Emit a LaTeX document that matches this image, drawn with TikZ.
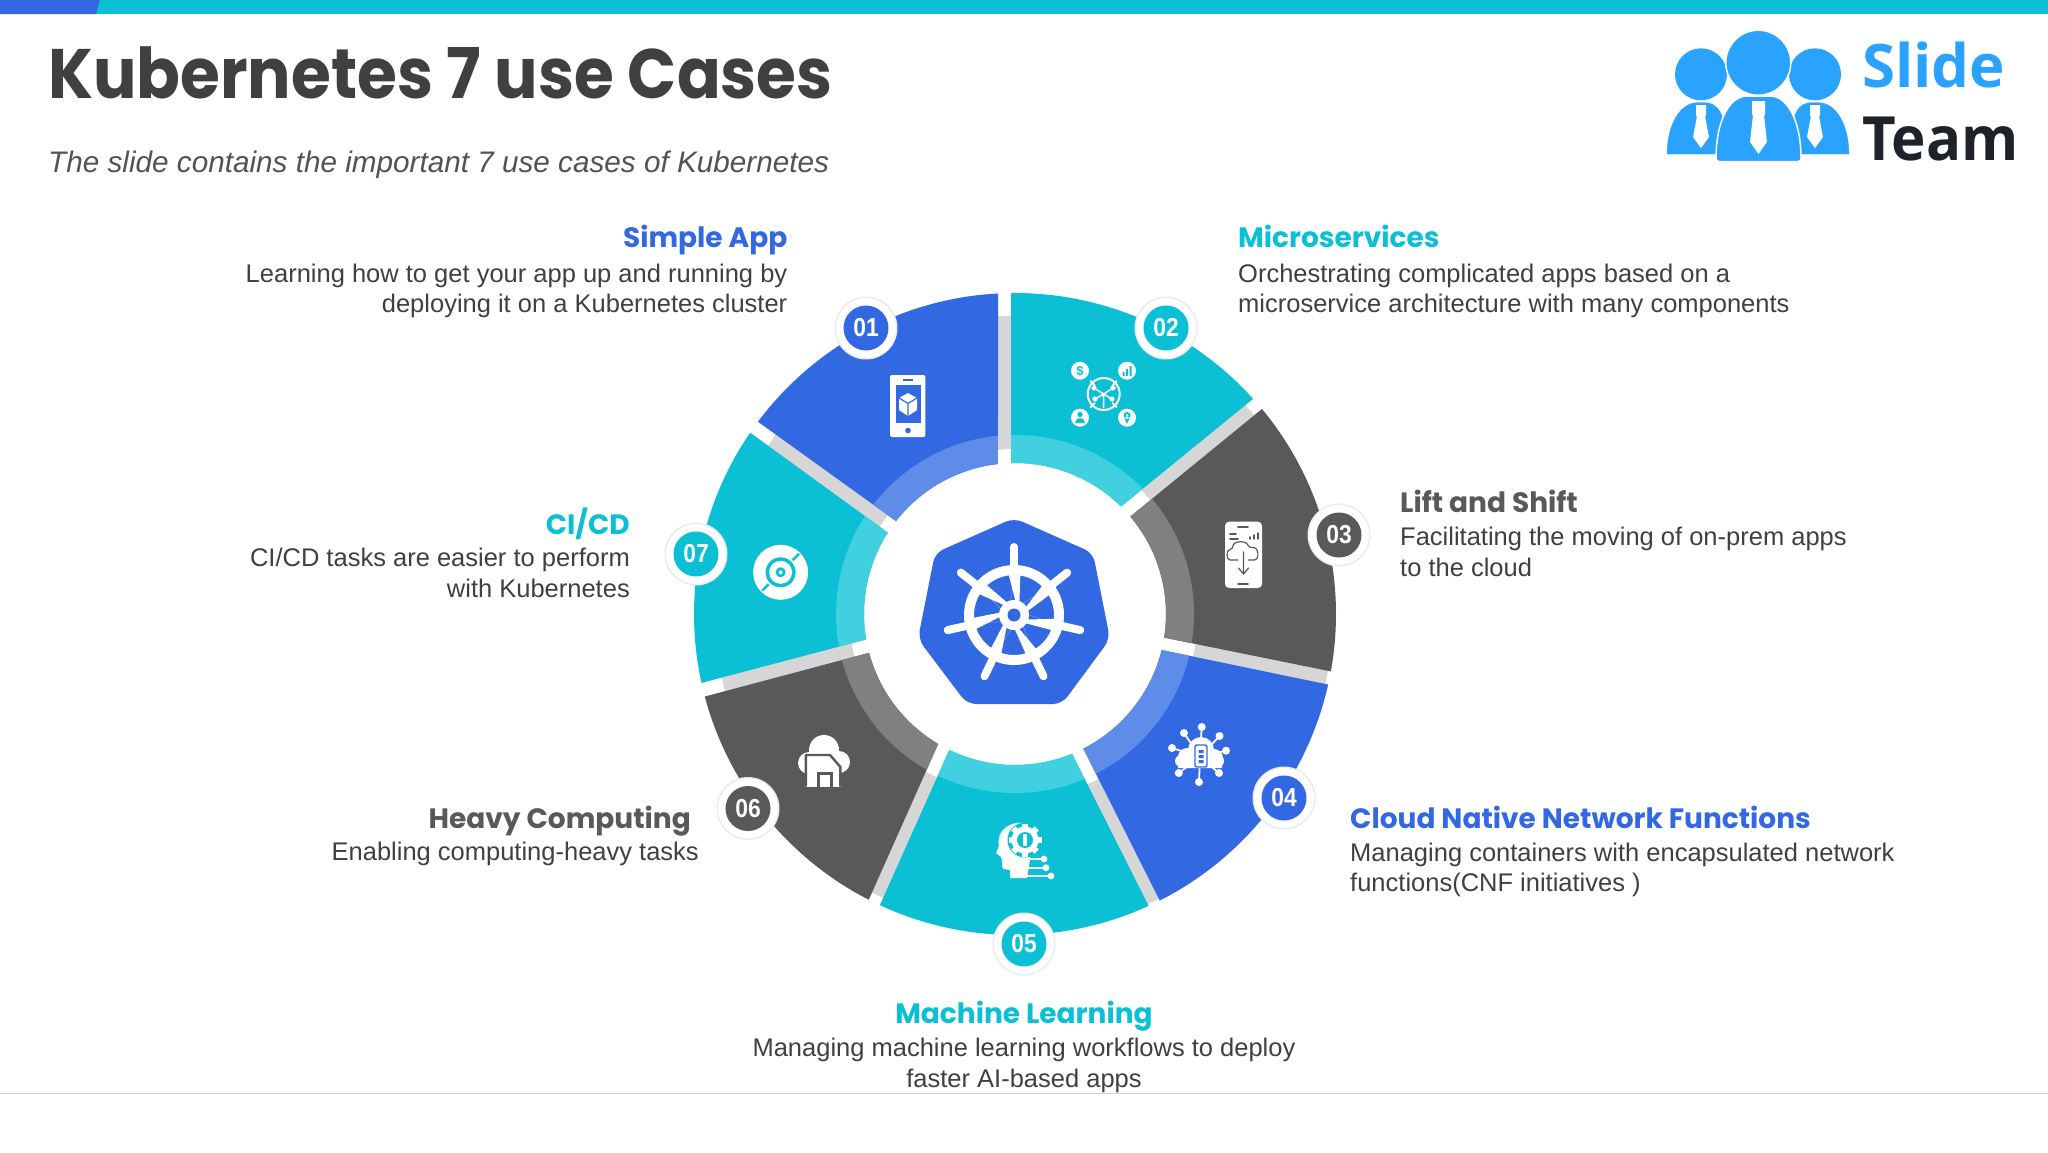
\documentclass[tikz,border=0pt]{standalone}
\usepackage{fontspec}
\setmainfont{Liberation Sans}
\newfontfamily\popfont{Poppins}
\newfontfamily\logofont{Open Sans}
\usetikzlibrary{calc}
\definecolor{kblue}{HTML}{3269E3}
\definecolor{kteal}{HTML}{0BC0D4}
\definecolor{kdark}{HTML}{59585A}
\definecolor{lblue}{HTML}{5F8CE8}
\definecolor{lteal}{HTML}{40D0DF}
\definecolor{ldark}{HTML}{807F81}
\definecolor{gapgrey}{HTML}{D6D6D6}
\definecolor{bodytxt}{HTML}{404040}
\definecolor{logoblue}{HTML}{29A3FF}
\definecolor{logoblack}{HTML}{1E2329}
\newcommand\fsz[1]{\fontsize{#1}{#1}\selectfont}
\newcommand\gapseg[4]{%
  \fill[gapgrey] (#1:#3pt) arc[start angle=#1,end angle=#2,radius=#3pt] -- (#2:#4pt) arc[start angle=#2,end angle=#1,radius=#4pt] -- cycle;}
\newcommand\sector[6]{%
  \fill[#1] (#3:321pt) arc[start angle=#3,end angle=#4,radius=321pt] -- (#5:151pt) arc[start angle=#5,end angle=#6,radius=151pt] -- cycle;
  \begin{scope}
    \clip (#3:321pt) arc[start angle=#3,end angle=#4,radius=321pt] -- (#5:151pt) arc[start angle=#5,end angle=#6,radius=151pt] -- cycle;
    \fill[#2,even odd rule] (0,0) circle[radius=179pt] (0,0) circle[radius=140pt];
  \end{scope}}
\newcommand\badge[4]{% name, colour, position, text
  \fill[black!8] (#3) circle[radius=31.5pt];
  \fill[white] (#3) circle[radius=30pt];
  \node[badgedisc,fill=#2] (#1) at (#3) {\scalebox{.88}[1]{#4}};}
\tikzset{
  x=1pt,y=1pt,
  badgedisc/.style={circle,minimum size=45pt,inner sep=0pt,text=white,font=\bfseries\fsz{26}},
  head/.style={inner sep=0pt,font=\popfont\bfseries\fsz{28}},
  desc/.style={inner sep=0pt,text=bodytxt,font=\fsz{25.5}},
  wl/.style={white,line width=2pt,line cap=round},
  dl/.style={kdark,line width=1.6pt,line cap=round},
  tie/.style={fill=white}
}
\begin{document}
\begin{tikzpicture}
\useasboundingbox (0,0) rectangle (2048,-1152);
\fill[white] (0,0) rectangle (2048,-1152);
% top bar
\fill[kteal] (0,0) rectangle (2048,-14);
\fill[kblue] (0,0) -- (100,0) -- (96,-14) -- (0,-14) -- cycle;
% bottom rule
\draw[black!18,line width=1.2pt] (0,-1093.5) -- (2048,-1093.5);
% title
\node[anchor=base west,inner sep=0pt,text=bodytxt,xscale=.922,font=\popfont\bfseries\fsz{70}] (title) at (48,-98) {Kubernetes 7 use Cases};
\node[anchor=base west,inner sep=0pt,text=bodytxt!90,font=\itshape\fsz{29.7}] (subtitle) at (48,-172) {The slide contains the important 7 use cases of Kubernetes};
% logo
\fill[logoblue] (1701,-74.3) circle[radius=26pt] (1815,-74.3) circle[radius=26pt];
\draw[logoblue,fill=logoblue,line width=0.1pt] (1667,-154) .. controls (1667,-125) and (1680,-102.7) .. (1697,-102.7) -- (1705,-102.7) .. controls (1716,-102.7) and (1727,-110) .. (1727,-154) -- cycle;
\draw[logoblue,fill=logoblue,line width=0.1pt] (1849,-154) .. controls (1849,-125) and (1836,-102.7) .. (1819,-102.7) -- (1811,-102.7) .. controls (1800,-102.7) and (1790,-110) .. (1790,-154) -- cycle;
\draw[white,fill=logoblue,line width=1.5pt] (1758.3,-62.7) circle[radius=32.5pt];
\draw[white,fill=logoblue,line width=1.5pt,rounded corners=3pt] (1716,-161.5) .. controls (1716,-120) and (1730,-96) .. (1750,-96) -- (1767,-96) .. controls (1787,-96) and (1801,-120) .. (1801,-161.5) -- cycle;
\fill[tie] (1752,-101) rectangle (1765,-115) (1753,-115) -- (1764,-115) -- (1767,-142) -- (1758.5,-154) -- (1750,-142) -- cycle;
\fill[tie] (1696,-105) rectangle (1706,-116) (1697,-116) -- (1705,-116) -- (1709,-137) -- (1701,-148) -- (1693,-137) -- cycle;
\fill[tie] (1810,-105) rectangle (1820,-116) (1811,-116) -- (1819,-116) -- (1823,-137) -- (1815,-148) -- (1807,-137) -- cycle;
\node[anchor=base west,inner sep=0pt,text=logoblue,font=\logofont\bfseries\fsz{60}] (logoslide) at (1862,-87.5) {Slide};
\node[anchor=base west,inner sep=0pt,text=logoblack,xscale=.955,font=\logofont\bfseries\fsz{61}] (logoteam) at (1862,-160.7) {Team};
% ring
\begin{scope}[shift={(1015,-614)}]
  \gapseg{88}{99}{165}{298}
  \gapseg{38}{48}{177}{311}
  \gapseg{-16}{-6}{183}{318}
  \gapseg{-70}{-60}{185}{319}
  \gapseg{236}{248}{181}{313}
  \gapseg{188}{198}{166}{300}
  \gapseg{140}{150}{161}{299}
  \sector{kblue}{lblue}{93}{143.2}{142}{96.5}
  \sector{kteal}{lteal}{42.1}{90.7}{91.5}{45.4}
  \sector{kdark}{ldark}{-10.3}{39.7}{40.2}{-9}
  \sector{kblue}{lblue}{-63.2}{-12.7}{-13.8}{-63.1}
  \sector{kteal}{lteal}{-114.9}{-65.4}{-67.8}{-115.8}
  \sector{kdark}{ldark}{194.9}{242.9}{239.4}{194.9}
  \sector{kteal}{lteal}{145.6}{192.4}{189.7}{147.4}
\end{scope}
% centre emblem
\fill[kblue,rounded corners=9pt] (1014,-518) -- (1093,-553) -- (1110,-639) -- (1062,-704) -- (967,-704) -- (918,-639) -- (935,-553) -- cycle;
\begin{scope}[shift={(1014,-615)}]
  \fill[white,even odd rule] (0,0) circle[radius=50pt] (0,0) circle[radius=40pt];
  \foreach \a in {90,141.43,192.86,244.29,295.71,347.14,38.57}{
    \fill[white] (\a+90:5pt) -- (\a:45pt) ++(\a+90:6.5pt) -- ++(\a-90:13pt) -- (\a-90:5pt) -- cycle;
    \draw[white,line width=8pt,line cap=round] (\a:45pt) -- (\a:68pt);
  }
  \fill[white] (0,0) circle[radius=15pt];
  \fill[kblue] (0,0) circle[radius=6.5pt];
\end{scope}
% icon 01 phone
\fill[white,rounded corners=2pt] (890,-375) rectangle (925.4,-437);
\fill[kblue] (895.5,-385) rectangle (921,-423);
\fill[kblue] (908,-430.5) circle[radius=2.8pt];
\draw[kblue,line width=1.4pt] (903,-380) -- (913,-380);
\fill[white] (908,-393) -- (917,-398) -- (917,-410) -- (908,-416) -- (899,-410) -- (899,-398) -- cycle;
\draw[kblue,line width=1.2pt] (899,-398) -- (908,-403.5) -- (917,-398) (908,-403.5) -- (908,-416);
% icon 02 network
\draw[white,line width=2pt] (1103.7,-394) circle[radius=16pt];
\foreach \p/\q in {1080/370.7,1127/370.7,1080/417.7,1127/417.7}{
  \fill[white] (\p,-\q) circle[radius=9pt];
  \draw[wl] ($(\p,-\q)!.45!(1103.7,-394)$) -- ($(\p,-\q)!.62!(1103.7,-394)$);
}
\draw[white,line width=1.5pt] (1103.7,-394) -- (1103.7,-408) (1103.7,-394) -- (1094,-388) (1103.7,-394) -- (1113,-388) (1103.7,-394) -- (1095,-399) (1103.7,-394) -- (1112,-399);
\fill[white] (1094,-388) circle[radius=2.6pt] (1113,-388) circle[radius=2.6pt] (1095,-399) circle[radius=2.6pt] (1112,-399) circle[radius=2.6pt];
\node[inner sep=0pt,text=kteal,font=\bfseries\fsz{13}] (dollar) at (1080,-370.7) {\$};
\fill[kteal] (1122.5,-376) rectangle (1124.5,-372) (1126,-376) rectangle (1128,-369) (1129.5,-376) rectangle (1131.5,-366);
\fill[kteal] (1080,-414.5) circle[radius=2.6pt] (1075,-423) arc[start angle=180,end angle=0,radius=5pt] -- cycle;
\fill[kteal] (1127,-415.5) circle[radius=3.5pt] (1124,-417) -- (1130,-417) -- (1127,-424) -- cycle;
\fill[white] (1127,-415.5) circle[radius=1.4pt];
% icon 03 phone with cloud
\fill[white,rounded corners=4pt] (1225,-521.7) rectangle (1262,-588);
\begin{scope}[dl]
  \draw (1238,-527) -- (1248,-527) (1230,-534) -- (1236,-534) (1230,-539) -- (1238,-539) (1250,-537) -- (1250,-539) (1254,-535) -- (1254,-539) (1258,-533) -- (1258,-539) (1238,-584) -- (1248,-584);
  \draw[line width=1.2pt,rounded corners=3pt] (1238,-560) -- (1233,-560) .. controls (1226,-560) and (1226,-550) .. (1233,-549) .. controls (1233,-541) and (1246,-540) .. (1249,-548) .. controls (1259,-546) and (1260,-560) .. (1251,-560) -- (1249,-560);
  \draw[line width=1.2pt] (1243.5,-552) -- (1243.5,-574) (1238.5,-568) -- (1243.5,-574) -- (1248.5,-568);
\end{scope}
% icon 04 cloud and nodes
\foreach \p/\q in {1201.7/727,1184/733,1219.5/736,1172/748,1226/750.7,1178.8/773,1219/773,1199/782}{
  \fill[white] (\p,-\q) circle[radius=4pt];
  \draw[white,line width=1.8pt] (\p,-\q) -- ($(\p,-\q)!.55!(1200,-757)$);
}
\fill[white] (1187,-757) circle[radius=9pt] (1201,-750) circle[radius=13pt] (1214,-758) circle[radius=9pt] (1178,-761) rectangle (1222,-768);
\fill[white] (1181,-761) circle[radius=6pt] (1218,-761) circle[radius=6pt];
\draw[kblue,fill=white,line width=1.4pt,rounded corners=2pt] (1195,-745) rectangle (1207,-767);
\fill[kblue] (1198.5,-750) rectangle (1203.5,-753) (1198.5,-755) rectangle (1203.5,-758) (1198.5,-760) rectangle (1203.5,-763);
% icon 05 head, gear, circuits
\fill[white] (1010,-878) -- (1010,-870) -- (1003,-869) .. controls (1001,-866) and (1003,-860) .. (1001,-857) -- (996,-853) -- (999,-846) .. controls (996,-830) and (1010,-822.7) .. (1020,-822.7) -- (1032,-824) -- (1030,-860) -- (1027,-878) -- cycle;
\fill[kteal] (1032,-818) rectangle (1050,-856);
\begin{scope}[shift={(1025,-840)}]
  \fill[kteal] (0,0) circle[radius=17.5pt];
  \foreach \a in {0,45,...,315}{\fill[white,rotate=\a] (-3pt,10pt) rectangle (3pt,16.5pt);}
  \fill[white] (0,0) circle[radius=13.5pt];
  \fill[kteal] (0,0) circle[radius=8pt];
  \fill[white] (-1.8pt,-6pt) rectangle (1.8pt,6pt);
\end{scope}
\draw[white,line width=2pt] (1025,-859) -- (1044,-859) (1025,-867.7) -- (1046,-867.7) (1025,-876) -- (1051,-876);
\fill[white] (1044,-859) circle[radius=3.4pt] (1046,-867.7) circle[radius=3.4pt] (1051,-876) circle[radius=3.4pt];
% icon 06 cloud and building
\fill[white] (824,-750) circle[radius=15pt] (809,-763) circle[radius=11pt] (839,-762) circle[radius=11pt];
\fill[white] (805,-786.7) rectangle (841,-760);
\draw[kdark,line width=2.4pt,line join=round] (805.8,-786.7) -- (805.8,-755) -- (830,-755) -- (840.4,-767) -- (840.4,-786.7);
\fill[kdark] (817,-771.7) rectangle (832.6,-786.7);
\fill[white] (819.6,-775) rectangle (830,-786.7);
% icon 07 disc
\begin{scope}[shift={(780.6,-572.3)}]
  \fill[white] (0,0) circle[radius=27.5pt];
  \fill[kteal] (0,0) circle[radius=15pt];
  \fill[white] (0,0) circle[radius=11.5pt];
  \fill[kteal] (0,0) circle[radius=5pt];
  \fill[white] (0,0) circle[radius=2pt];
  \draw[kteal,line width=2.4pt] (45:17pt) -- (45:26pt) (225:17pt) -- (225:26pt);
\end{scope}
% badges
\badge{b1}{kblue}{866,-328}{01}
\badge{b2}{kteal}{1166,-328}{02}
\badge{b3}{kdark}{1339,-535}{03}
\badge{b4}{kblue}{1284,-798}{04}
\badge{b5}{kteal}{1024,-944}{05}
\badge{b6}{kdark}{748,-808.5}{06}
\badge{b7}{kteal}{696,-554}{07}
% texts
\node[head,anchor=base east,text=kblue] (h1) at (787.5,-247) {Simple App};
\node[desc,anchor=base east] (d1a) at (787.5,-282) {Learning how to get your app up and running by};
\node[desc,anchor=base east] (d1b) at (787.5,-312) {deploying it on a Kubernetes cluster};
\node[head,anchor=base west,text=kteal] (h2) at (1238,-247) {Microservices};
\node[desc,anchor=base west] (d2a) at (1238,-282) {Orchestrating complicated apps based on a};
\node[desc,anchor=base west] (d2b) at (1238,-312) {microservice architecture with many components};
\node[head,anchor=base west,text=kdark] (h3) at (1400,-512) {Lift and Shift};
\node[desc,anchor=base west] (d3a) at (1400,-545) {Facilitating the moving of on-prem apps};
\node[desc,anchor=base west] (d3b) at (1400,-576) {to the cloud};
\node[head,anchor=base west,text=kblue] (h4) at (1350,-828) {Cloud Native Network Functions};
\node[desc,anchor=base west] (d4a) at (1350,-861) {Managing containers with encapsulated network};
\node[desc,anchor=base west] (d4b) at (1350,-891.5) {functions(CNF initiatives )};
\node[head,anchor=base,text=kteal] (h5) at (1024,-1023.5) {Machine Learning};
\node[desc,anchor=base] (d5a) at (1024,-1056.5) {Managing machine learning workflows to deploy};
\node[desc,anchor=base] (d5b) at (1024,-1087) {faster AI-based apps};
\node[head,anchor=base east,text=kdark] (h6) at (691,-828) {Heavy Computing};
\node[desc,anchor=base east] (d6a) at (699,-860.5) {Enabling computing-heavy tasks};
\node[head,anchor=base east,text=kteal] (h7) at (630,-534) {CI/CD};
\node[desc,anchor=base east] (d7a) at (630,-566.5) {CI/CD tasks are easier to perform};
\node[desc,anchor=base east] (d7b) at (630,-597.5) {with Kubernetes};
\end{tikzpicture}
\end{document}
